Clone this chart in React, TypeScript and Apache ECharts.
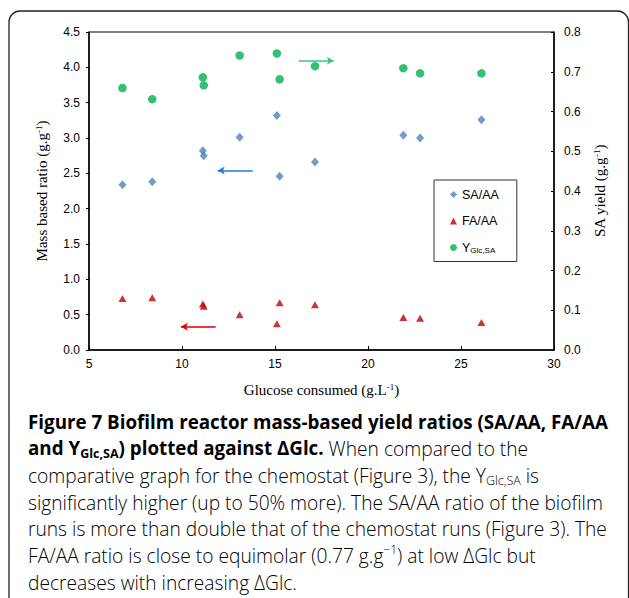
import React, { useEffect, useRef } from "react";
import * as echarts from "echarts";

// Glucose consumed (g/L) for each run
const glucose = [6.8, 8.4, 11.12, 11.17, 13.1, 15.1, 15.25, 17.15, 21.9, 22.8, 26.1];
// SA/AA mass ratio (left axis)
const saAa = [2.34, 2.38, 2.82, 2.75, 3.01, 3.32, 2.46, 2.66, 3.04, 3.0, 3.26];
// FA/AA mass ratio (left axis)
const faAa = [0.73, 0.74, 0.65, 0.62, 0.5, 0.37, 0.67, 0.64, 0.46, 0.45, 0.39];
// Y Glc,SA yield (right axis)
const yGlcSa = [0.659, 0.631, 0.686, 0.666, 0.741, 0.746, 0.681, 0.714, 0.709, 0.696, 0.696];

// Axis ranges
const xRange = [5, 30, 5];
const leftRange = [0, 4.5, 0.5];
const rightRange = [0, 0.8, 0.1];

// Annotation arrows (data coordinates: start -> end/head)
const blueArrow = [[13.8, 2.54], [11.92, 2.54]];
const redArrow = [[11.81, 0.33], [9.94, 0.33]];
const greenArrow = [[16.28, 0.7276], [18.16, 0.7276]];

const seriesNames = ["SA/AA", "FA/AA", "YGlc,SA"];

// Caption lines: [style, text] segments
const captionLines: [string, string][][] = [
  [["b", "Figure 7 Biofilm reactor mass-based yield ratios (SA/AA, FA/AA"]],
  [["b", "and Y"], ["bs", "Glc,SA"], ["b", ") plotted against ΔGlc."], ["r", " When compared to the"]],
  [["r", "comparative graph for the chemostat (Figure 3), the Y"], ["rs", "Glc,SA"], ["r", " is"]],
  [["r", "significantly higher (up to 50% more). The SA/AA ratio of the biofilm"]],
  [["r", "runs is more than double that of the chemostat runs (Figure 3). The"]],
  [["r", "FA/AA ratio is close to equimolar (0.77 g.g"], ["rp", "−1"], ["r", ") at low ΔGlc but"]],
  [["r", "decreases with increasing ΔGlc."]],
];

const pairs = (ys: number[]) => glucose.map((x, i) => [x, ys[i]]);

export default function App() {
  const ref = useRef<HTMLDivElement>(null);
  useEffect(() => {
    if (!ref.current) return;
    const chart = echarts.init(ref.current, undefined, { renderer: "svg" });
    const serif = "'Liberation Serif', 'Times New Roman', serif";
    const sans = "'Liberation Sans', Arial, sans-serif";
    const cap = "'Open Sans', 'Noto Sans', sans-serif";
    const boldFont = 18.8;
    const regFont = 19.2;
    const lh = 24;
    const capRich: any = {
      b: { fontFamily: cap, fontWeight: "bold", fontSize: boldFont, color: "#231f20", lineHeight: lh },
      bs: { fontFamily: cap, fontWeight: "bold", fontSize: 12.5, color: "#231f20", lineHeight: lh, verticalAlign: "bottom" },
      r: { fontFamily: cap, fontWeight: 300, fontSize: regFont, color: "#555555", lineHeight: lh },
      rs: { fontFamily: cap, fontWeight: 300, fontSize: 12.5, color: "#555555", lineHeight: lh, verticalAlign: "bottom" },
      rp: { fontFamily: cap, fontWeight: 300, fontSize: 12, color: "#555555", lineHeight: lh, verticalAlign: "top" },
    };
    const lineY0 = 421.7;
    const lineStep = 26.77;
    const captionGraphics = captionLines.map((segs, i) => ({
      type: "text",
      x: 28,
      y: lineY0 + i * lineStep,
      style: {
        text: segs.map(([s, t]) => `{${s}|${t}}`).join(""),
        rich: capRich,
        verticalAlign: "middle",
        align: "left",
      },
    }));

    const arrowLine = (pts: number[][], color: string) => ({
      silent: true,
      animation: false,
      symbol: ["none", "arrow"],
      symbolSize: [6, 7],
      label: { show: false },
      lineStyle: { color, width: 1.5, type: "solid" },
      data: [[{ coord: pts[0] }, { coord: pts[1] }]],
    });

    const nameRich = (family: string) => ({
      t: { fontFamily: family, fontSize: 15, color: "#000" },
      sup: { fontFamily: family, fontSize: 9, color: "#000", verticalAlign: "top", padding: [0, 0, 6, 0] },
    });

    chart.setOption({
      animation: false,
      backgroundColor: "#fff",
      grid: { left: 89, right: 75, top: 32, bottom: 248, show: true, borderColor: "#000", borderWidth: 1 },
      legend: {
        orient: "vertical",
        left: 434,
        top: 180,
        padding: [8, 18, 7, 16],
        itemGap: 13.5,
        itemWidth: 7,
        itemHeight: 7,
        borderColor: "#333",
        borderWidth: 1,
        backgroundColor: "#fff",
        data: [
          { name: seriesNames[0], icon: "diamond" },
          { name: seriesNames[1], icon: "triangle" },
          { name: seriesNames[2], icon: "circle" },
        ],
        formatter: (n: string) => (n === seriesNames[2] ? "{n|Y}{s|Glc,SA}" : `{n|${n}}`),
        textStyle: {
          fontFamily: sans,
          fontSize: 12,
          color: "#000",
          rich: {
            n: { fontFamily: sans, fontSize: 12.5, color: "#000" },
            s: { fontFamily: sans, fontSize: 8, color: "#000", verticalAlign: "bottom", padding: [6, 0, 0, 0] },
          },
        },
      },
      xAxis: {
        type: "value",
        min: xRange[0],
        max: xRange[1],
        interval: xRange[2],
        name: "{t|Glucose consumed (g.L}{sup|-1}{t|)}",
        nameLocation: "middle",
        nameGap: 32,
        nameTextStyle: { rich: nameRich(serif) },
        axisLine: { show: true, lineStyle: { color: "#000", width: 1.5 } },
        axisTick: { show: true, inside: true, length: 4, lineStyle: { color: "#000" } },
        axisLabel: { fontFamily: sans, fontSize: 12, color: "#000", margin: 8 },
        splitLine: { show: false },
      },
      yAxis: [
        {
          type: "value",
          min: leftRange[0],
          max: leftRange[1],
          interval: leftRange[2],
          position: "left",
          name: "{t|Mass based ratio (g.g}{sup|-1}{t|)}",
          nameLocation: "middle",
          nameGap: 40,
          nameTextStyle: { rich: nameRich(serif) },
          axisLine: { show: true, lineStyle: { color: "#000", width: 1.5 } },
          axisTick: { show: true, inside: false, length: 3, lineStyle: { color: "#000" } },
          axisLabel: { fontFamily: sans, fontSize: 12, color: "#000", margin: 9, formatter: (v: number) => v.toFixed(1) },
          splitLine: { show: false },
        },
        {
          type: "value",
          min: rightRange[0],
          max: rightRange[1],
          interval: rightRange[2],
          position: "right",
          name: "{t|SA yield (g.g}{sup|-1}{t|)}",
          nameLocation: "middle",
          nameGap: 38,
          nameTextStyle: { rich: nameRich(serif) },
          axisLine: { show: true, lineStyle: { color: "#000", width: 1.5 } },
          axisTick: { show: true, inside: true, length: 3, lineStyle: { color: "#000" } },
          axisLabel: { fontFamily: sans, fontSize: 12, color: "#000", margin: 10, formatter: (v: number) => v.toFixed(1) },
          splitLine: { show: false },
        },
      ],
      series: [
        {
          name: seriesNames[0],
          type: "scatter",
          yAxisIndex: 0,
          symbol: "diamond",
          symbolSize: [8, 9],
          itemStyle: { color: "#4f81bd" },
          data: pairs(saAa),
          markLine: arrowLine(blueArrow, "#1f7fd0"),
        },
        {
          name: seriesNames[1],
          type: "scatter",
          yAxisIndex: 0,
          symbol: "triangle",
          symbolSize: [8, 7],
          itemStyle: { color: "#c00000" },
          data: pairs(faAa),
          markLine: arrowLine(redArrow, "#e00000"),
        },
        {
          name: seriesNames[2],
          type: "scatter",
          yAxisIndex: 1,
          symbol: "circle",
          symbolSize: 8.5,
          itemStyle: { color: "#00b050" },
          data: pairs(yGlcSa),
          markLine: arrowLine(greenArrow, "#3cc47c"),
        },
      ],
      graphic: [
        {
          type: "rect",
          z: -10,
          shape: { x: 9, y: 11, width: 619.5, height: 600, r: 11 },
          style: { fill: "none", stroke: "#222", lineWidth: 1.3 },
        },
        ...captionGraphics,
      ],
    });
    return () => chart.dispose();
  }, []);
  return (
    <div
      ref={ref}
      style={{ position: "absolute", left: 0, top: 0, width: 629, height: 598 }}
    />
  );
}
